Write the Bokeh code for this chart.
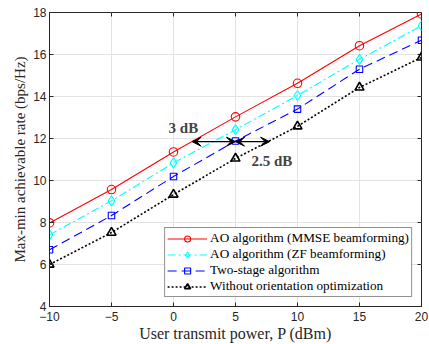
from bokeh.plotting import figure
from bokeh.models import (Range1d, Legend, LegendItem, Arrow, VeeHead, Label, FixedTicker)
from bokeh.embed import file_html
from bokeh.resources import INLINE

power_dbm = [-10, -5, 0, 5, 10, 15, 20]
ao_mmse = [7.98, 9.57, 11.36, 13.03, 14.63, 16.42, 17.93]
ao_zf = [7.41, 9.03, 10.84, 12.42, 14.05, 15.77, 17.37]
two_stage = [6.70, 8.33, 10.19, 11.88, 13.40, 15.30, 16.68]
without_opt = [6.00, 7.52, 9.33, 11.05, 12.58, 14.43, 15.86]

labels = ["AO algorithm (MMSE beamforming)", "AO algorithm (ZF beamforming)",
          "Two-stage algorithm", "Without orientation optimization"]
x_ticks = [-10, -5, 0, 5, 10, 15, 20]
y_ticks = [4, 6, 8, 10, 12, 14, 16, 18]

# annotation values
arrow3_x = [1.5, 5.0]
arrow25_x = [5.0, 7.75]
arrow_y = 11.85

SERIF = "Liberation Serif"
SANS = "Liberation Sans"
X0, X1, Y0, Y1 = -10, 20, 4, 18

p = figure(width=429, height=344, output_backend="svg", toolbar_location=None,
           x_range=Range1d(X0, X1), y_range=Range1d(Y0, Y1),
           min_border_left=49, min_border_right=8, min_border_top=12, min_border_bottom=38)
p.outline_line_color = "#262626"
p.outline_line_width = 1
p.background_fill_color = "white"
p.border_fill_color = "white"

for ax in [p.xaxis[0], p.yaxis[0]]:
    ax.major_label_text_font = SANS
    ax.major_label_text_font_size = "12px"
    ax.major_label_text_color = "#262626"
    ax.axis_line_color = "#262626"
    ax.major_tick_line_color = "#262626"
    ax.major_tick_in = 4
    ax.major_tick_out = 0
    ax.minor_tick_line_color = None
    ax.axis_label_text_font = SERIF
    ax.axis_label_text_font_style = "normal"
    ax.axis_label_text_color = "#262626"
p.xaxis.ticker = FixedTicker(ticks=x_ticks)
p.yaxis.ticker = FixedTicker(ticks=y_ticks)
p.xaxis.major_label_standoff = 5
p.yaxis.major_label_standoff = 3

p.yaxis.axis_label = "Max-min achievable rate (bps/Hz)"
p.yaxis.axis_label_text_font_size = "15px"
p.yaxis.axis_label_standoff = 2
p.xaxis.axis_label = "User transmit power, P (dBm)"
p.xaxis.axis_label_text_font_size = "16px"
p.xaxis.axis_label_standoff = 1

p.grid.grid_line_color = "#e3e3e3"
p.grid.grid_line_width = 1

# box ticks on top and right edges (inward)
p.segment(x0=x_ticks, y0=[Y1] * len(x_ticks), x1=x_ticks,
          y1=[Y1 - 0.19] * len(x_ticks), line_color="#262626", line_width=1)
p.segment(x0=[X1] * len(y_ticks), y0=y_ticks, x1=[X1 - 0.32] * len(y_ticks),
          y1=y_ticks, line_color="#262626", line_width=1)

r1 = p.line(power_dbm, ao_mmse, line_color="red", line_width=1.1)
m1 = p.scatter(power_dbm, ao_mmse, marker="circle", size=8.5, fill_color=None,
               line_color="red", line_width=1.1)
r2 = p.line(power_dbm, ao_zf, line_color="cyan", line_width=1.1, line_dash="8 3 2 3")
m2 = p.scatter(power_dbm, ao_zf, marker="diamond", size=10, fill_color=None,
               line_color="cyan", line_width=1.1)
r3 = p.line(power_dbm, two_stage, line_color="blue", line_width=1.1, line_dash="9 5")
m3 = p.scatter(power_dbm, two_stage, marker="square", size=6.5, fill_color=None,
               line_color="blue", line_width=1.1)
r4 = p.line(power_dbm, without_opt, line_color="black", line_width=1.6, line_dash="2 2")
m4 = p.scatter(power_dbm, without_opt, marker="triangle", size=9, fill_color=None,
               line_color="black", line_width=1.6)

legend = Legend(items=[LegendItem(label=labels[0], renderers=[r1, m1]),
                       LegendItem(label=labels[1], renderers=[r2, m2]),
                       LegendItem(label=labels[2], renderers=[r3, m3]),
                       LegendItem(label=labels[3], renderers=[r4, m4])],
                location="bottom_right")
legend.label_text_font = SERIF
legend.label_text_font_size = "13.2px"
legend.label_text_color = "black"
legend.border_line_color = "#262626"
legend.border_line_width = 1
legend.background_fill_alpha = 1
legend.margin = 9
legend.padding = 2
legend.spacing = 0
legend.label_height = 15
legend.glyph_height = 15
legend.glyph_width = 40
legend.label_standoff = 3
p.add_layout(legend)

head = dict(size=9, fill_color="black", line_color="black")
p.add_layout(Arrow(start=VeeHead(**head), end=VeeHead(**head),
                   x_start=arrow3_x[0], y_start=arrow_y, x_end=arrow3_x[1], y_end=arrow_y,
                   line_color="black", line_width=1.2))
p.add_layout(Arrow(start=VeeHead(**head), end=VeeHead(**head),
                   x_start=arrow25_x[0], y_start=arrow_y, x_end=arrow25_x[1], y_end=arrow_y,
                   line_color="black", line_width=1.2))
p.add_layout(Label(x=0.8, y=12.5, text="3 dB", text_font=SERIF, text_font_style="bold",
                   text_font_size="15px", text_align="center", text_baseline="middle"))
p.add_layout(Label(x=7.93, y=10.95, text="2.5 dB", text_font=SERIF, text_font_style="bold",
                   text_font_size="15px", text_align="center", text_baseline="middle"))

open("out.html", "w").write(file_html(p, INLINE))
